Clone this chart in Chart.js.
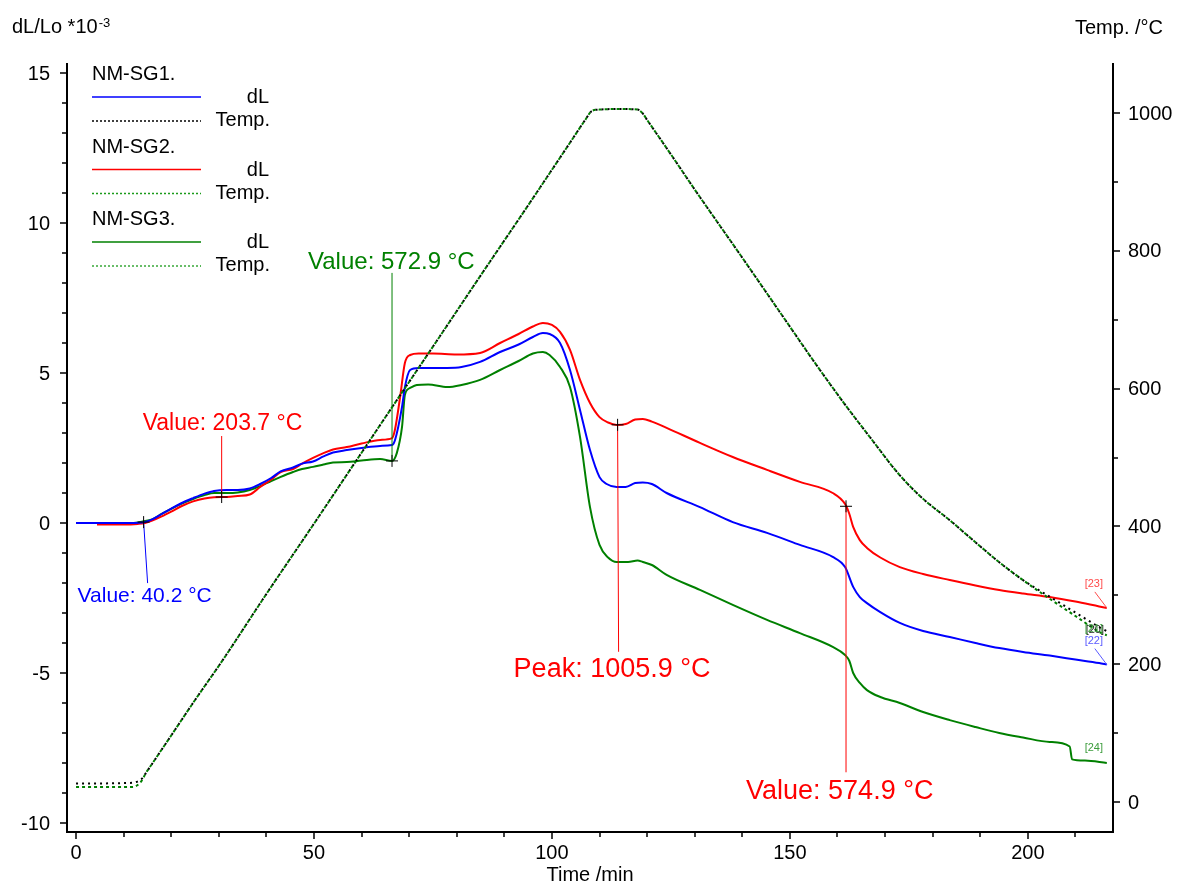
<!DOCTYPE html>
<html>
<head>
<meta charset="utf-8">
<title>NM-SG dilatometry</title>
<script src="https://cdn.jsdelivr.net/npm/chart.js@4.4.0/dist/chart.umd.min.js"></script>
<style>
  html, body { margin: 0; padding: 0; background: #fff; }
  canvas { display: block; }
</style>
</head>
<body>
<canvas id="dilChart" width="1180" height="884"></canvas>
<script>
// dL/Lo (*10^-3) against time /min for the three samples
const sg1Time = [0, 10, 14, 16, 18, 20, 22, 24.6, 27, 29, 31.7, 34, 36.5, 38.7, 41, 43, 45.6, 47.5, 49.8, 52, 54, 56.9, 60, 63.9, 66.4, 67.0, 68.5, 69.1, 70.2, 72, 74.4, 78, 81, 84.9, 89.1, 93, 96, 98.1, 99.5, 101.7, 103.8, 105.9, 108, 110, 111.5, 113.6, 115.5, 117.5, 119.1, 121, 124.1, 131.1, 138, 145.2, 152.1, 159, 161.6, 163.3, 164.7, 166.2, 169, 173.1, 178, 183.6, 189, 194, 199, 204.6, 210, 215, 216.6];
const sg1DL = [0, 0, 0.02, 0.12, 0.3, 0.48, 0.65, 0.83, 0.98, 1.07, 1.1, 1.1, 1.15, 1.3, 1.5, 1.72, 1.85, 1.98, 2.05, 2.22, 2.35, 2.43, 2.5, 2.57, 2.6, 2.75, 3.87, 4.53, 5.1, 5.17, 5.17, 5.17, 5.2, 5.37, 5.7, 5.95, 6.2, 6.33, 6.3, 6.0, 5.1, 3.77, 2.43, 1.53, 1.3, 1.2, 1.2, 1.33, 1.35, 1.3, 1.0, 0.53, 0.03, -0.33, -0.73, -1.13, -1.47, -2.13, -2.47, -2.67, -2.97, -3.33, -3.6, -3.8, -4.0, -4.17, -4.3, -4.42, -4.55, -4.67, -4.72];

const sg2Time = [4.4, 10, 13, 14.5, 16, 18, 20, 22, 24.6, 27, 29, 31.7, 34, 36.5, 38.7, 41, 43, 45.6, 47.5, 49.8, 52, 54, 56.9, 60, 63.9, 66.4, 67.0, 68.1, 69.1, 70.2, 72, 75, 80, 84.9, 89.1, 93, 96, 98.1, 100, 101.7, 103.8, 105.9, 108, 110, 111.8, 113.6, 115.5, 117.5, 119.1, 121, 124.1, 131.1, 138, 145.2, 152.1, 159, 161.6, 162.5, 163.3, 164.7, 166.2, 169, 173.1, 178, 183.6, 189, 194, 199, 204.6, 210, 215, 216.6];
const sg2DL = [-0.05, -0.05, -0.03, 0, 0.08, 0.22, 0.38, 0.55, 0.72, 0.82, 0.86, 0.87, 0.9, 0.95, 1.2, 1.45, 1.7, 1.8, 1.98, 2.17, 2.33, 2.45, 2.53, 2.65, 2.77, 2.83, 3.1, 4.2, 5.33, 5.6, 5.65, 5.65, 5.62, 5.67, 6.0, 6.3, 6.55, 6.67, 6.6, 6.37, 5.77, 4.77, 4.0, 3.53, 3.35, 3.27, 3.3, 3.45, 3.47, 3.38, 3.17, 2.67, 2.2, 1.77, 1.37, 1.0, 0.63, 0.3, -0.13, -0.57, -0.83, -1.15, -1.47, -1.7, -1.9, -2.08, -2.23, -2.35, -2.47, -2.62, -2.78, -2.83];

const sg3Time = [0, 12, 14, 16, 18, 20, 22, 24.6, 27, 29, 31.7, 34, 36.5, 38.7, 41, 42.9, 45.6, 47.5, 49.8, 52, 54, 56.9, 60, 63.9, 66.4, 67.4, 68.5, 69.1, 70.2, 71.6, 74, 78, 81, 84.9, 89.1, 93, 96, 98.1, 99.5, 101.7, 103.8, 105.9, 108, 110, 111.8, 113.6, 116, 118, 119.1, 121, 124.1, 131.1, 138, 145.2, 152.1, 159, 161.6, 162.5, 163.3, 164.7, 166.2, 169, 173.1, 178, 183.6, 189, 194, 199, 204.6, 208.8, 209.3, 212, 216.6];
const sg3DL = [0, 0, 0.05, 0.12, 0.3, 0.47, 0.63, 0.8, 0.93, 1.0, 1.0, 1.02, 1.1, 1.23, 1.4, 1.53, 1.7, 1.8, 1.87, 1.95, 2.02, 2.03, 2.08, 2.13, 2.07, 2.33, 3.2, 4.27, 4.5, 4.6, 4.62, 4.53, 4.6, 4.77, 5.1, 5.4, 5.65, 5.7, 5.6, 5.2, 4.53, 2.87, 0.53, -0.73, -1.15, -1.3, -1.3, -1.25, -1.3, -1.4, -1.73, -2.23, -2.73, -3.23, -3.67, -4.13, -4.4, -4.6, -5.0, -5.33, -5.57, -5.8, -6.0, -6.3, -6.57, -6.8, -7.0, -7.15, -7.3, -7.45, -7.88, -7.92, -8.0];

// furnace temperature /°C
const tempTime = [0, 5, 10, 12, 13, 14, 14.5, 16, 20, 25, 30.6, 40, 50, 60, 66.4, 75, 85, 95, 104, 107, 108.4, 110, 113.8, 118, 119, 120, 125, 130, 140, 150, 155, 161.8, 167, 173, 178, 183.6, 189, 194, 199, 204.6, 210, 215, 216.6];
const sg1Temp = [27, 27, 27.5, 28, 30, 35, 40.2, 55.6, 96.6, 148, 203.7, 302, 404, 507, 572.9, 661, 764, 866, 959, 990, 1003, 1005, 1005.9, 1005, 1000, 990, 940, 889, 790, 690, 640, 574.9, 528, 475, 440, 409, 377, 348, 322, 298, 275, 254, 248];
const sg23Temp = [21.7, 21.7, 21.7, 22, 25, 33, 40, 55.6, 96.6, 148, 203.7, 302, 404, 507, 572.9, 661, 764, 866, 959, 990, 1003, 1005, 1005.9, 1005, 1000, 990, 940, 889, 790, 690, 640, 574.9, 528, 475, 440, 409, 377, 348, 322, 295, 270, 247, 242];

// evaluation markers: time, temperature read at that time, curve index
const markerTimes = [14.2, 30.6, 66.4, 113.8, 161.8];
const markerTemps = [40.2, 203.7, 572.9, 1005.9, 574.9];
const markerKinds = ['Value', 'Value', 'Value', 'Peak', 'Value'];
const markerCurve = [0, 1, 2, 1, 1];

const timeTicks = [0, 50, 100, 150, 200];
const dlTicks = [-10, -5, 0, 5, 10, 15];
const tempTicks = [0, 200, 400, 600, 800, 1000];

const FONT = "'Liberation Sans', Arial, sans-serif";
const BLUE = '#0000ff', RED = '#ff0000', GREEN = '#008000';
const curveColors = [BLUE, RED, GREEN];
const curveTimes = [sg1Time, sg2Time, sg3Time];
const curveValues = [sg1DL, sg2DL, sg3DL];

function pts(xs, ys) {
    return xs.map((x, i) => ({ x: x, y: ys[i] }));
}

function valueAt(xs, ys, t) {
    for (let i = 1; i < xs.length; i++) {
        if (xs[i] >= t) {
            const f = (t - xs[i - 1]) / (xs[i] - xs[i - 1]);
            return ys[i - 1] + f * (ys[i] - ys[i - 1]);
        }
    }
    return ys[ys.length - 1];
}

// label placement around each marker (pixels)
const markerLayout = [
    { dx: -66, dy: 80, line: [4, 61], size: 21 },
    { dx: -79, dy: -67, line: [0, -61], size: 23 },
    { dx: -84, dy: -192, line: [0, -188], size: 24 },
    { dx: -104, dy: 252, line: [1, 227], size: 27 },
    { dx: -100, dy: 293, line: [0, 266], size: 27 }
];

const axesPlugin = {
    id: 'axesPlugin',
    afterDraw(chart) {
        const ctx = chart.ctx;
        const a = chart.chartArea;
        const x = chart.scales.x, y = chart.scales.y, y1 = chart.scales.y1;
        ctx.save();
        ctx.strokeStyle = '#000';
        ctx.fillStyle = '#000';

        // frame: left, bottom, right
        ctx.lineWidth = 2;
        ctx.beginPath();
        ctx.moveTo(a.left, a.top);
        ctx.lineTo(a.left, a.bottom);
        ctx.lineTo(a.right, a.bottom);
        ctx.lineTo(a.right, a.top);
        ctx.stroke();

        ctx.lineWidth = 1.5;
        ctx.beginPath();
        for (let v = 0; v <= 210; v += 10) {
            const px = Math.round(x.getPixelForValue(v));
            ctx.moveTo(px, a.bottom);
            ctx.lineTo(px, a.bottom + (timeTicks.includes(v) ? 7 : 5));
        }
        for (let v = -10; v <= 15; v += 1) {
            const py = Math.round(y.getPixelForValue(v));
            ctx.moveTo(a.left, py);
            ctx.lineTo(a.left - (dlTicks.includes(v) ? 7 : 5), py);
        }
        for (let v = 0; v <= 1000; v += 100) {
            const py = Math.round(y1.getPixelForValue(v));
            ctx.moveTo(a.right, py);
            ctx.lineTo(a.right + (tempTicks.includes(v) ? 7 : 5), py);
        }
        ctx.stroke();

        ctx.font = '20px ' + FONT;
        ctx.textBaseline = 'alphabetic';
        ctx.textAlign = 'center';
        timeTicks.forEach(v => ctx.fillText(String(v), x.getPixelForValue(v), 859));
        ctx.fillText('Time /min', (a.left + a.right) / 2, 881);

        ctx.textBaseline = 'middle';
        ctx.textAlign = 'right';
        dlTicks.forEach(v => ctx.fillText(String(v), a.left - 17, y.getPixelForValue(v) + 1));
        ctx.textAlign = 'left';
        tempTicks.forEach(v => ctx.fillText(String(v), a.right + 15, y1.getPixelForValue(v) + 1));

        // axis titles
        ctx.textBaseline = 'alphabetic';
        ctx.textAlign = 'left';
        ctx.fillText('dL/Lo *10', 12, 33);
        const w = ctx.measureText('dL/Lo *10').width;
        ctx.font = '13px ' + FONT;
        ctx.fillText('-3', 12 + w + 1, 27);
        ctx.font = '20px ' + FONT;
        ctx.textAlign = 'right';
        ctx.fillText('Temp. /°C', 1163, 34);

        // legend
        const rows = [
            ['NM-SG1.', BLUE, '#000'],
            ['NM-SG2.', RED, '#1a9a1a'],
            ['NM-SG3.', GREEN, '#1a9a1a']
        ];
        rows.forEach((r, i) => {
            const top = 73 + i * 72.5;
            ctx.fillStyle = '#000';
            ctx.textAlign = 'left';
            ctx.fillText(r[0], 92, top + 7);
            ctx.textAlign = 'right';
            ctx.fillText('dL', 269, top + 30);
            ctx.fillText('Temp.', 270, top + 53);
            ctx.lineWidth = 1.5;
            ctx.setLineDash([]);
            ctx.strokeStyle = r[1];
            ctx.beginPath();
            ctx.moveTo(92, top + 24);
            ctx.lineTo(201, top + 24);
            ctx.stroke();
            ctx.lineWidth = 1.3;
            ctx.setLineDash([2, 2]);
            ctx.strokeStyle = r[2];
            ctx.beginPath();
            ctx.moveTo(92, top + 48);
            ctx.lineTo(201, top + 48);
            ctx.stroke();
        });
        ctx.setLineDash([]);

        // evaluation markers with leader lines
        markerTimes.forEach((t, i) => {
            const c = markerCurve[i];
            const lay = markerLayout[i];
            const mx = x.getPixelForValue(t);
            const my = y.getPixelForValue(valueAt(curveTimes[c], curveValues[c], t));
            const col = curveColors[c];
            ctx.strokeStyle = col;
            ctx.lineWidth = 1;
            ctx.beginPath();
            ctx.moveTo(mx, my);
            ctx.lineTo(mx + lay.line[0], my + lay.line[1]);
            ctx.stroke();
            ctx.strokeStyle = '#000';
            ctx.beginPath();
            ctx.moveTo(mx - 6, my);
            ctx.lineTo(mx + 6, my);
            ctx.moveTo(mx, my - 6);
            ctx.lineTo(mx, my + 6);
            ctx.stroke();
            ctx.fillStyle = col;
            ctx.font = lay.size + 'px ' + FONT;
            ctx.textAlign = 'left';
            ctx.fillText(markerKinds[i] + ': ' + markerTemps[i].toFixed(1) + ' °C', mx + lay.dx, my + lay.dy);
        });

        // curve end tags
        ctx.font = '11px ' + FONT;
        ctx.textAlign = 'center';
        const tags = [
            ['[22]', '#5a5aff', 0, -21, true],
            ['[23]', '#ff4a4a', 1, -21, true],
            ['[24]', '#3c9c3c', 2, -12, false]
        ];
        tags.forEach(tg => {
            const c = tg[2];
            const xs = curveTimes[c], ys = curveValues[c];
            const ex = x.getPixelForValue(xs[xs.length - 1]);
            const ey = y.getPixelForValue(ys[ys.length - 1]);
            ctx.fillStyle = tg[1];
            ctx.fillText(tg[0], ex - 13, ey + tg[3]);
            if (tg[4]) {
                ctx.strokeStyle = tg[1];
                ctx.lineWidth = 1;
                ctx.beginPath();
                ctx.moveTo(ex - 12, ey - 16);
                ctx.lineTo(ex, ey);
                ctx.stroke();
            }
        });
        const tx = x.getPixelForValue(tempTime[tempTime.length - 1]);
        const ty = y1.getPixelForValue(sg23Temp[sg23Temp.length - 1]);
        ctx.fillStyle = '#222';
        ctx.fillText('[20]', tx - 12, ty - 2);
        ctx.fillStyle = '#3c9c3c';
        ctx.fillText('[21]', tx - 13, ty - 3);
        ctx.restore();
    }
};

const ctx = document.getElementById('dilChart');
const myChart = new Chart(ctx, {
    type: 'line',
    data: {
        datasets: [
            { label: 'NM-SG1. Temp.', data: pts(tempTime, sg1Temp), yAxisID: 'y1', borderColor: '#000', borderWidth: 2, borderDash: [2, 4], order: 0 },
            { label: 'NM-SG2./3. Temp.', data: pts(tempTime, sg23Temp), yAxisID: 'y1', borderColor: GREEN, borderWidth: 2, borderDash: [3, 3], order: 1 },
            { label: 'NM-SG1. dL', data: pts(sg1Time, sg1DL), yAxisID: 'y', borderColor: BLUE, order: 2 },
            { label: 'NM-SG2. dL', data: pts(sg2Time, sg2DL), yAxisID: 'y', borderColor: RED, order: 3 },
            { label: 'NM-SG3. dL', data: pts(sg3Time, sg3DL), yAxisID: 'y', borderColor: GREEN, order: 4 }
        ]
    },
    options: {
        responsive: false,
        devicePixelRatio: 1,
        animation: false,
        layout: { padding: { left: 67, top: 63, right: 67, bottom: 52 } },
        elements: {
            point: { radius: 0 },
            line: { borderWidth: 2, cubicInterpolationMode: 'monotone' }
        },
        plugins: {
            legend: { display: false },
            tooltip: { enabled: false }
        },
        scales: {
            x: { type: 'linear', min: -1.9, max: 217.9, display: false },
            y: { type: 'linear', position: 'left', min: -10.3, max: 15.333, display: false },
            y1: { type: 'linear', position: 'right', min: -43.5, max: 1072.6, display: false }
        }
    },
    plugins: [axesPlugin]
});
</script>
</body>
</html>
